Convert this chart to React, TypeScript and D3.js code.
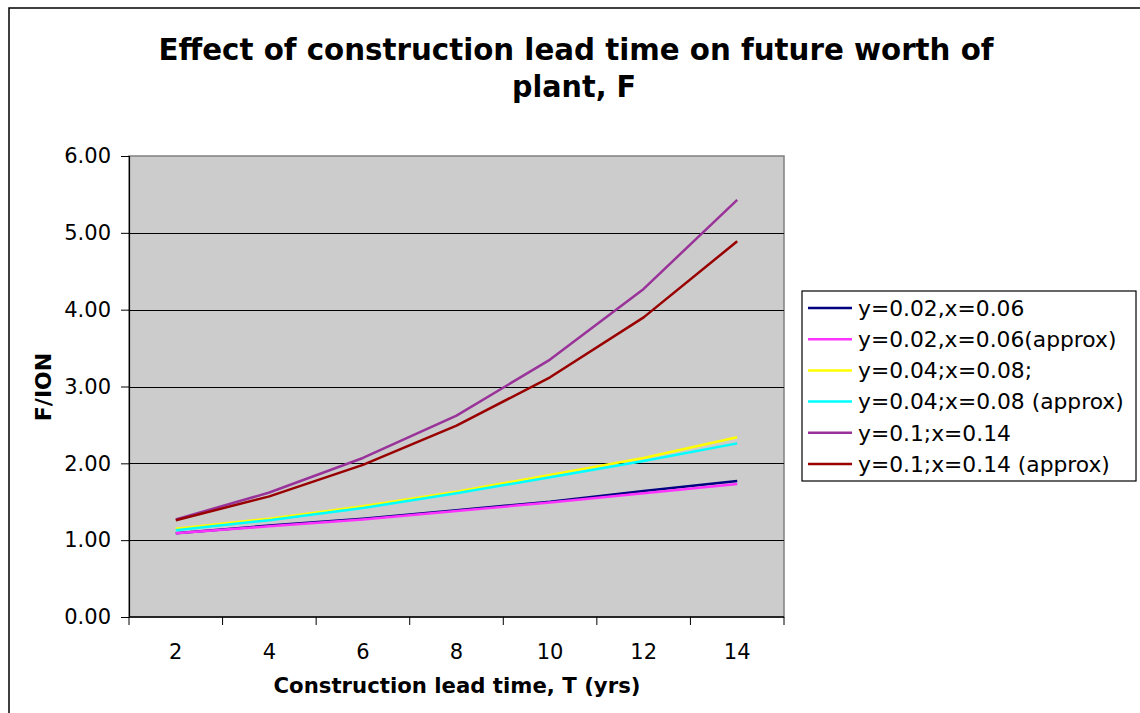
import React, { useEffect, useRef } from 'react';
import * as d3 from 'd3';

// lead time categories (yrs)
const categories = ['2', '4', '6', '8', '10', '12', '14'];
const yTicks = [0, 1, 2, 3, 4, 5, 6];

const seriesNames = [
  'y=0.02,x=0.06',
  'y=0.02,x=0.06(approx)',
  'y=0.04;x=0.08;',
  'y=0.04;x=0.08 (approx)',
  'y=0.1;x=0.14',
  'y=0.1;x=0.14 (approx)',
];
const seriesColors = ['#000080', '#FF33FF', '#FFFF00', '#00FFFF', '#993399', '#990000'];

const y02x06 = [1.09, 1.19, 1.28, 1.39, 1.50, 1.64, 1.77];
const y02x06approx = [1.09, 1.18, 1.27, 1.38, 1.49, 1.61, 1.73];
const y04x08 = [1.15, 1.28, 1.44, 1.63, 1.85, 2.07, 2.34];
const y04x08approx = [1.13, 1.26, 1.42, 1.61, 1.82, 2.03, 2.26];
const y10x14 = [1.27, 1.62, 2.07, 2.62, 3.35, 4.27, 5.43];
const y10x14approx = [1.26, 1.57, 1.98, 2.49, 3.12, 3.90, 4.89];

const seriesValues = [y02x06, y02x06approx, y04x08, y04x08approx, y10x14, y10x14approx];

const W = 1140;
const H = 713;
const FONT = '"DejaVu Sans", Verdana, sans-serif';

export default function App() {
  const ref = useRef<SVGSVGElement>(null);

  useEffect(() => {
    const svg = d3.select(ref.current);
    svg.selectAll('*').remove();

    const plot = { left: 129, top: 156, right: 784, bottom: 617 };

    const x = d3.scaleBand<string>().domain(categories).range([plot.left, plot.right]).padding(0);
    const y = d3.scaleLinear().domain([0, 6]).range([plot.bottom, plot.top]);
    const cx = (c: string) => (x(c) as number) + x.bandwidth() / 2;

    // outer chart frame
    svg.append('rect')
      .attr('x', 9).attr('y', 8).attr('width', W + 20).attr('height', H + 20)
      .attr('fill', 'white').attr('stroke', '#000').attr('stroke-width', 1.5);

    // title
    const title = svg.append('g').attr('font-family', FONT).attr('font-weight', 'bold')
      .attr('font-size', 31).attr('text-anchor', 'middle');
    title.append('text').attr('x', 576).attr('y', 60)
      .attr('textLength', 835).attr('lengthAdjust', 'spacingAndGlyphs')
      .text('Effect of construction lead time on future worth of');
    title.append('text').attr('x', 574).attr('y', 97)
      .attr('textLength', 124).attr('lengthAdjust', 'spacingAndGlyphs')
      .text('plant, F');

    // plot area
    svg.append('rect')
      .attr('x', plot.left).attr('y', plot.top)
      .attr('width', plot.right - plot.left).attr('height', plot.bottom - plot.top)
      .attr('fill', '#CCCCCC').attr('stroke', '#808080').attr('stroke-width', 1.5);

    // gridlines
    svg.append('g').selectAll('line')
      .data(yTicks.filter(t => t > 0 && t < 6))
      .join('line')
      .attr('x1', plot.left).attr('x2', plot.right)
      .attr('y1', d => Math.round(y(d)) + 0.5).attr('y2', d => Math.round(y(d)) + 0.5)
      .attr('stroke', '#000').attr('stroke-width', 1);

    // y axis
    const yAxis = svg.append('g')
      .attr('transform', `translate(${plot.left},0)`)
      .call(d3.axisLeft(y).tickValues(yTicks).tickFormat(d3.format('.2f')).tickSize(8).tickPadding(10));
    yAxis.select('.domain').attr('stroke', '#000').attr('stroke-width', 1.2);
    yAxis.selectAll('.tick line').attr('stroke', '#000');
    yAxis.selectAll('.tick text').attr('font-family', FONT).attr('font-size', 21).attr('fill', '#000');

    // x axis
    const xAxisG = svg.append('g');
    xAxisG.append('line')
      .attr('x1', plot.left).attr('x2', plot.right)
      .attr('y1', plot.bottom).attr('y2', plot.bottom)
      .attr('stroke', '#000').attr('stroke-width', 1.5);
    const boundaries = categories.map(c => x(c) as number).concat([plot.right]);
    xAxisG.selectAll('line.tk').data(boundaries).join('line').attr('class', 'tk')
      .attr('x1', d => d).attr('x2', d => d)
      .attr('y1', plot.bottom).attr('y2', plot.bottom + 8)
      .attr('stroke', '#000');
    xAxisG.selectAll('text').data(categories).join('text')
      .attr('x', d => cx(d)).attr('y', 659)
      .attr('text-anchor', 'middle')
      .attr('font-family', FONT).attr('font-size', 21)
      .text(d => d);

    // axis titles
    svg.append('text')
      .attr('x', 457).attr('y', 693).attr('text-anchor', 'middle')
      .attr('font-family', FONT).attr('font-weight', 'bold').attr('font-size', 21)
      .attr('textLength', 367).attr('lengthAdjust', 'spacingAndGlyphs')
      .text('Construction lead time, T (yrs)');
    svg.append('text')
      .attr('transform', 'translate(51,387) rotate(-90)').attr('text-anchor', 'middle')
      .attr('font-family', FONT).attr('font-weight', 'bold').attr('font-size', 22)
      .text('F/ION');

    // series lines
    const line = d3.line<number>()
      .x((_, i) => cx(categories[i]))
      .y(d => y(d));
    svg.append('g').selectAll('path')
      .data(seriesValues)
      .join('path')
      .attr('d', d => line(d))
      .attr('fill', 'none')
      .attr('stroke', (_, i) => seriesColors[i])
      .attr('stroke-width', 2.5)
      .attr('stroke-linejoin', 'round');

    // legend
    const lg = svg.append('g');
    lg.append('rect')
      .attr('x', 802).attr('y', 291).attr('width', 334).attr('height', 190)
      .attr('fill', 'white').attr('stroke', '#000').attr('stroke-width', 1.2);
    const rows = lg.selectAll('g.row').data(seriesNames).join('g').attr('class', 'row')
      .attr('transform', (_, i) => `translate(0,${308 + i * 31.2})`);
    rows.append('line')
      .attr('x1', 808).attr('x2', 852).attr('y1', 0).attr('y2', 0)
      .attr('stroke', (_, i) => seriesColors[i]).attr('stroke-width', 2.5);
    rows.append('text')
      .attr('x', 858).attr('y', 0).attr('dy', '0.36em')
      .attr('font-family', FONT).attr('font-size', 21.8)
      .text(d => d);
  }, []);

  return (
    <svg ref={ref} width={W} height={H}
      style={{ position: 'absolute', left: 0, top: 0, background: 'white' }} />
  );
}
